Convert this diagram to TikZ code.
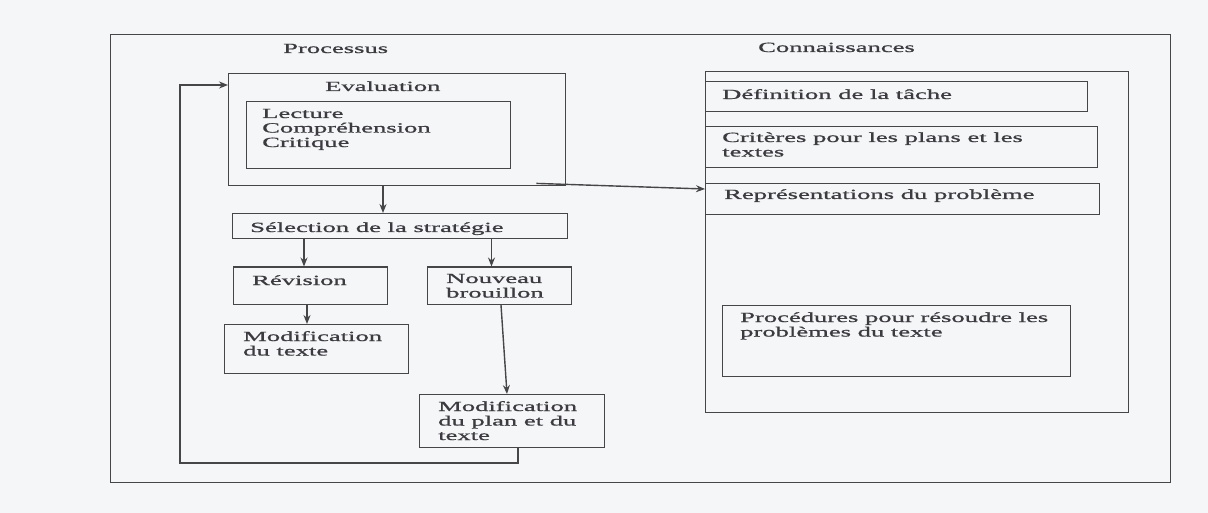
\documentclass[tikz,border=0pt]{standalone}
\usepackage{fontspec}
\setmainfont{Liberation Serif}[FakeStretch=1.9,FakeBold=1.0]
\usetikzlibrary{arrows.meta}
\definecolor{paper}{RGB}{245,246,248}
\definecolor{ink}{RGB}{70,70,72}
\definecolor{txtc}{RGB}{60,60,64}
\newcommand{\stk}[1]{\vtop{\halign{##\hfil\cr#1\crcr}}}
\tikzset{
  box/.style={draw=ink, line width=1.4pt, rectangle, inner sep=0pt, anchor=north west},
  txt/.style={inner sep=0pt, anchor=base west, text=txtc, font=\fontsize{14}{14.5}\selectfont},
  arr/.style={draw=ink, line width=1.4pt, -{Stealth[length=9pt,width=7pt]}},
  ln/.style={draw=ink, line width=1.4pt}
}
\begin{document}
\begin{tikzpicture}[x=1pt,y=-1pt]
\fill[paper] (0,0) rectangle (1208,513);
\useasboundingbox (0,0) rectangle (1208,513);
% outer frame
\node[box, minimum width=1060pt, minimum height=448pt] (outer) at (110,34) {};
\node[txt] (tproc) at (283,53) {Processus};
\node[txt] (tconn) at (758,52) {Connaissances};
% process side
\node[box, minimum width=337pt, minimum height=112pt] (eval) at (228,73) {};
\node[txt] (teval) at (325,91) {Evaluation};
\node[box, minimum width=264pt, minimum height=67pt] (lect) at (246,101) {};
\node[txt] (tlect) at (262,118) {\stk{Lecture\cr Compréhension\cr Critique}};
\node[box, minimum width=335pt, minimum height=25pt] (sel) at (232,213) {};
\node[txt] (tsel) at (250,232) {Sélection de la stratégie};
\node[box, minimum width=154pt, minimum height=37pt] (rev) at (233,266.5) {};
\node[txt] (trev) at (252,285) {Révision};
\node[box, minimum width=144pt, minimum height=37pt] (nouv) at (427,266.5) {};
\node[txt] (tnouv) at (446,283) {\stk{Nouveau\cr brouillon}};
\node[box, minimum width=184pt, minimum height=49pt] (modt) at (224,324) {};
\node[txt] (tmodt) at (243,341) {\stk{Modification\cr du texte}};
\node[box, minimum width=185pt, minimum height=53pt] (modp) at (419,394) {};
\node[txt] (tmodp) at (438,411) {\stk{Modification\cr du plan et du\cr texte}};
% knowledge side
\node[box, minimum width=423pt, minimum height=341pt] (know) at (705,71) {};
\node[box, minimum width=382pt, minimum height=30pt] (def) at (705,81) {};
\node[txt] (tdef) at (722,99) {Définition de la tâche};
\node[box, minimum width=392pt, minimum height=41pt] (crit) at (705,126) {};
\node[txt] (tcrit) at (722,142) {\stk{Critères pour les plans et les\cr textes}};
\node[box, minimum width=394pt, minimum height=31pt] (rep) at (705,183) {};
\node[txt] (trep) at (724,199) {Représentations du problème};
\node[box, minimum width=348pt, minimum height=71pt] (proc) at (722,305) {};
\node[txt] (tproc2) at (740,322) {\stk{Procédures pour résoudre les\cr problèmes du texte}};
% connectors
\draw[arr] ([xshift=155pt]eval.south west) -- ([xshift=151pt]sel.north west);
\draw[arr] ([xshift=72pt]sel.south west) -- ([xshift=71pt]rev.north west);
\draw[arr] ([xshift=259.5pt]sel.south west) -- ([xshift=64.5pt]nouv.north west);
\draw[arr] ([xshift=74pt]rev.south west) -- ([xshift=83pt]modt.north west);
\draw[arr] ([xshift=74pt]nouv.south west) -- ([xshift=88pt]modp.north west);
\coordinate (lpA) at (180,463);
\coordinate (lpB) at (180,85);
\draw[arr] ([xshift=99pt]modp.south west) |- (lpA) -- (lpB) -- ([yshift=-12pt]eval.north west);
\draw[arr] ([shift={(-30pt,3pt)}]eval.south east) -- ([yshift=-6pt]rep.north west);
\end{tikzpicture}
\end{document}
